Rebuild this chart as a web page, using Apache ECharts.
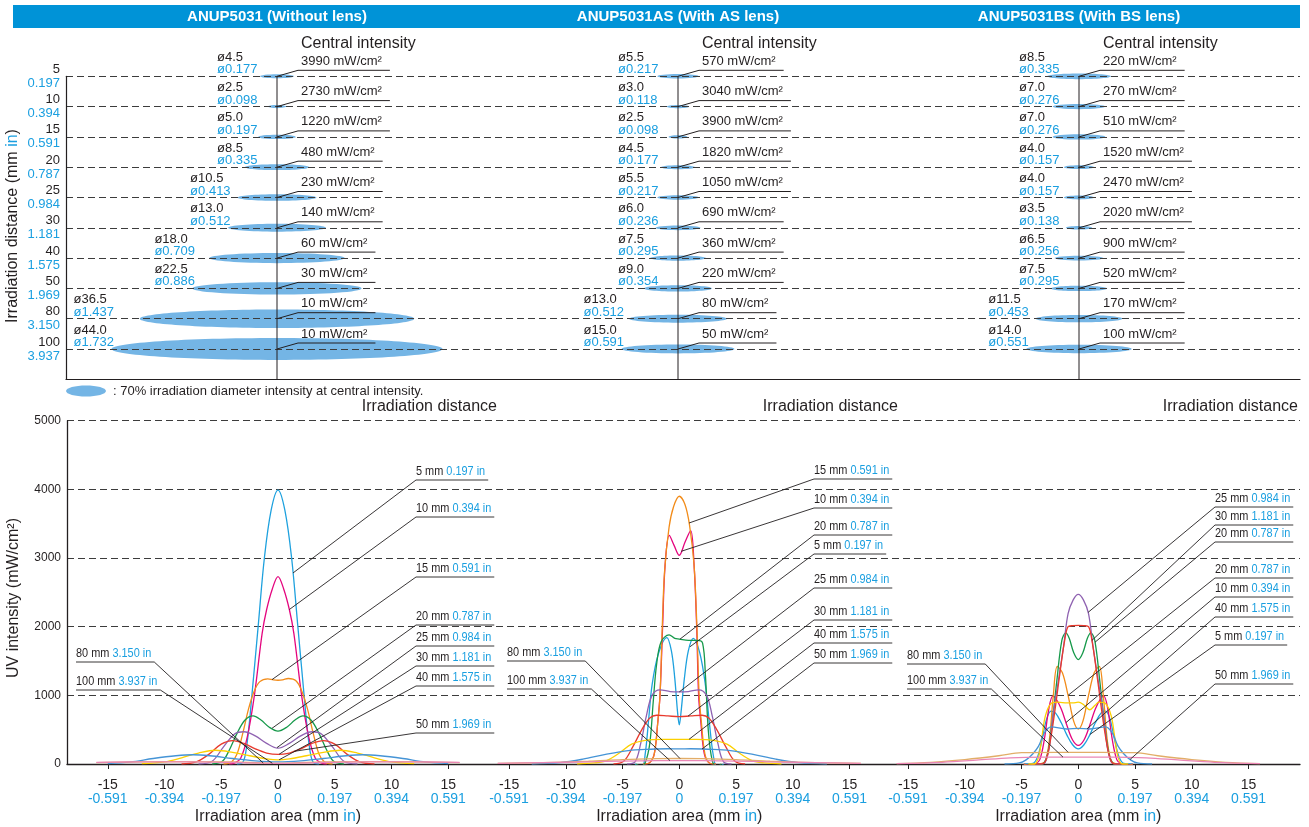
<!DOCTYPE html>
<html>
<head>
<meta charset="utf-8">
<title>ANUP5031 irradiation characteristics</title>
<script src="https://cdn.jsdelivr.net/npm/echarts@6/dist/echarts.min.js"></script>
<style>
html,body{margin:0;padding:0;background:#fff;}
#chart{width:1309px;height:827px;}
</style>
</head>
<body>
<div id="chart"></div>
<script>
// ---------------- data ----------------
const modelNames = ['ANUP5031 (Without lens)', 'ANUP5031AS (With AS lens)', 'ANUP5031BS (With BS lens)'];
const distancesMm = [5, 10, 15, 20, 25, 30, 40, 50, 80, 100];
const distancesIn = ['0.197', '0.394', '0.591', '0.787', '0.984', '1.181', '1.575', '1.969', '3.150', '3.937'];

// 70 % irradiation diameter at each distance
const spotDiaMmStd = [4.5, 2.5, 5.0, 8.5, 10.5, 13.0, 18.0, 22.5, 36.5, 44.0];
const spotDiaInStd = ['0.177', '0.098', '0.197', '0.335', '0.413', '0.512', '0.709', '0.886', '1.437', '1.732'];
const spotDiaMmAS = [5.5, 3.0, 2.5, 4.5, 5.5, 6.0, 7.5, 9.0, 13.0, 15.0];
const spotDiaInAS = ['0.217', '0.118', '0.098', '0.177', '0.217', '0.236', '0.295', '0.354', '0.512', '0.591'];
const spotDiaMmBS = [8.5, 7.0, 7.0, 4.0, 4.0, 3.5, 6.5, 7.5, 11.5, 14.0];
const spotDiaInBS = ['0.335', '0.276', '0.276', '0.157', '0.157', '0.138', '0.256', '0.295', '0.453', '0.551'];

// central intensity (mW/cm2)
const centralStd = [3990, 2730, 1220, 480, 230, 140, 60, 30, 10, 10];
const centralAS = [570, 3040, 3900, 1820, 1050, 690, 360, 220, 80, 50];
const centralBS = [220, 270, 510, 1520, 2470, 2020, 900, 520, 170, 100];

// axis ticks
const xTickMm = [-15, -10, -5, 0, 5, 10, 15];
const xTickIn = ['-0.591', '-0.394', '-0.197', '0', '0.197', '0.394', '0.591'];
const uvMax = 5000, uvStep = 1000;

// intensity profiles [position mm, mW/cm2] per irradiation distance
const profileStd = {
  5: [[-3.6,0],[-3.2,10],[-2.9,120],[-2.6,480],[-2.3,1000],[-1.75,2000],[-1.2,3000],[-0.6,3700],[0,3990],[0.6,3700],[1.2,3000],[1.75,2000],[2.3,1000],[2.6,480],[2.9,120],[3.2,10],[3.6,0]],
  10: [[-4.3,0],[-3.9,10],[-3.3,80],[-2.7,400],[-2.08,1000],[-1.4,1900],[-1.0,2250],[-0.5,2550],[0,2730],[0.5,2550],[1.0,2250],[1.4,1900],[2.08,1000],[2.7,400],[3.3,80],[3.9,10],[4.3,0]],
  15: [[-4.8,0],[-4.1,30],[-3.6,150],[-3.1,450],[-2.6,800],[-2.1,1060],[-1.6,1200],[-0.9,1240],[-0.4,1225],[0,1220],[0.4,1225],[0.9,1245],[1.6,1210],[2.1,1060],[2.6,800],[3.1,450],[3.6,150],[4.1,30],[4.8,0]],
  20: [[-5.8,0],[-4.9,40],[-4.3,200],[-3.6,450],[-2.9,640],[-2.2,700],[-1.5,640],[-0.8,540],[0,480],[0.8,540],[1.5,640],[2.2,700],[2.9,640],[3.6,450],[4.3,200],[4.9,40],[5.8,0]],
  25: [[-7,0],[-5.8,40],[-4.8,250],[-3.8,440],[-3.0,470],[-2.0,410],[-1.0,300],[0,230],[1.0,300],[2.0,410],[3.0,470],[3.8,440],[4.8,250],[5.8,40],[7,0]],
  30: [[-8.5,0],[-7.2,30],[-6.1,140],[-5.0,290],[-4.0,340],[-3.0,300],[-2.0,220],[-1.0,160],[0,140],[1.0,160],[2.0,220],[3.0,300],[4.0,340],[5.0,290],[6.1,140],[7.2,30],[8.5,0]],
  40: [[-12,5],[-10,30],[-8.5,90],[-7,160],[-5.5,200],[-4,170],[-2.5,120],[-1,75],[0,60],[1,75],[2.5,120],[4,170],[5.5,200],[7,160],[8.5,90],[10,30],[12,5]],
  50: [[-15,5],[-13,30],[-11,80],[-9,120],[-7.5,135],[-6,120],[-4,80],[-2,45],[0,30],[2,45],[4,80],[6,120],[7.5,135],[9,120],[11,80],[13,30],[15,5]],
  80: [[-16,20],[-12,30],[-8,35],[-4,30],[-1.5,15],[0,10],[1.5,15],[4,30],[8,35],[12,30],[16,20]],
  100: [[-16,25],[-12,30],[-8,30],[-4,22],[-1.5,13],[0,10],[1.5,13],[4,22],[8,30],[12,30],[16,25]]
};
const profileAS = {
  5: [[-3.9,0],[-3.3,-50],[-3.0,150],[-2.7,650],[-2.4,1150],[-1.85,1600],[-1.1,1840],[-0.7,1650],[-0.4,1250],[-0.15,750],[0,570],[0.15,750],[0.45,1250],[0.8,1650],[1.24,1830],[1.8,1620],[2.3,1150],[2.65,600],[3.0,120],[3.35,-60],[3.9,0]],
  10: [[-3.2,0],[-2.6,20],[-2.2,150],[-1.9,600],[-1.7,1000],[-1.47,2000],[-1.25,2900],[-0.88,3330],[-0.45,3180],[0,3040],[0.5,3230],[1.0,3400],[1.3,2900],[1.53,2000],[1.7,1000],[1.9,600],[2.2,150],[2.6,20],[3.2,0]],
  15: [[-3.2,0],[-2.6,20],[-2.2,150],[-1.9,600],[-1.7,1000],[-1.5,2000],[-1.3,2800],[-0.9,3450],[-0.5,3750],[0,3900],[0.5,3780],[0.9,3480],[1.3,2900],[1.55,2000],[1.75,1000],[1.95,600],[2.25,150],[2.6,20],[3.2,0]],
  20: [[-3.8,0],[-3.4,-30],[-3.0,20],[-2.6,300],[-2.3,900],[-2.0,1450],[-1.6,1780],[-0.9,1880],[-0.4,1830],[0,1820],[0.8,1800],[1.6,1800],[2.05,1760],[2.3,1300],[2.55,500],[2.9,50],[3.3,-40],[3.7,0]],
  25: [[-4.6,0],[-3.9,30],[-3.4,300],[-2.9,700],[-2.4,1000],[-1.7,1080],[-0.8,1055],[0,1050],[0.8,1055],[1.7,1080],[2.4,1000],[2.9,700],[3.4,300],[3.9,30],[4.6,0]],
  30: [[-5.8,0],[-4.9,40],[-4.1,250],[-3.3,500],[-2.6,670],[-2.0,710],[-1.0,700],[0,690],[1.0,700],[2.0,710],[2.6,670],[3.3,500],[4.1,250],[4.9,40],[5.8,0]],
  40: [[-9,0],[-7.5,15],[-6.4,50],[-5.2,170],[-4.2,290],[-3.0,345],[-1.5,360],[0,360],[1.5,360],[3.0,345],[4.2,290],[5.2,170],[6.4,50],[7.5,15],[9,0]],
  50: [[-13,0],[-10.5,20],[-8.5,70],[-6.5,140],[-4.5,195],[-2.5,215],[-1,222],[0,220],[1,222],[2.5,215],[4.5,195],[6.5,140],[8.5,70],[10.5,20],[13,0]],
  80: [[-16,10],[-12,20],[-8,40],[-5,65],[-2,78],[0,80],[2,78],[5,65],[8,40],[12,20],[16,10]],
  100: [[-16,10],[-12,20],[-8,32],[-5,42],[-2,49],[0,50],[2,49],[5,42],[8,32],[12,20],[16,10]]
};
const profileBS = {
  5: [[-4.8,0],[-4.0,10],[-3.6,100],[-3.2,350],[-2.8,650],[-2.4,770],[-2.0,740],[-1.5,600],[-1.0,420],[-0.5,280],[0,220],[0.5,280],[1.0,420],[1.5,600],[2.0,740],[2.4,770],[2.8,650],[3.2,350],[3.6,100],[4.0,10],[4.8,0]],
  10: [[-4.8,0],[-4.4,-15],[-3.8,0],[-3.4,60],[-3.0,350],[-2.6,800],[-2.25,990],[-2.0,960],[-1.5,800],[-1.0,560],[-0.5,350],[0,270],[0.5,350],[1.0,560],[1.5,800],[2.0,960],[2.25,990],[2.6,800],[3.0,350],[3.4,60],[3.8,0],[4.4,-15],[4.8,0]],
  15: [[-4.8,0],[-4.4,-15],[-3.7,0],[-3.3,5],[-2.9,40],[-2.55,350],[-2.2,1000],[-1.85,1420],[-1.4,1330],[-0.9,1000],[-0.4,620],[0,510],[0.4,620],[0.9,1000],[1.4,1330],[1.85,1420],[2.2,1000],[2.55,350],[2.9,40],[3.3,5],[3.7,0],[4.4,-15],[4.8,0]],
  20: [[-3.8,0],[-3.5,-15],[-3.1,0],[-2.7,150],[-2.3,600],[-1.9,1200],[-1.45,1800],[-1.1,1910],[-0.8,1830],[-0.4,1620],[0,1520],[0.4,1620],[0.8,1830],[1.1,1910],[1.45,1800],[1.9,1200],[2.3,600],[2.7,150],[3.1,0],[3.5,-15],[3.8,0]],
  25: [[-3.8,0],[-3.3,0],[-2.9,30],[-2.55,250],[-2.2,740],[-1.75,1220],[-1.3,1710],[-0.9,2190],[-0.45,2390],[0,2470],[0.45,2390],[0.9,2190],[1.3,1710],[1.75,1220],[2.2,740],[2.55,250],[2.9,30],[3.3,0],[3.8,0]],
  30: [[-3.8,0],[-3.2,0],[-2.8,80],[-2.4,400],[-2.0,850],[-1.6,1350],[-1.2,1800],[-0.9,2000],[-0.5,2015],[0,2020],[0.5,2015],[0.9,2000],[1.2,1800],[1.6,1350],[2.0,850],[2.4,400],[2.8,80],[3.2,0],[3.8,0]],
  40: [[-4.4,0],[-3.9,0],[-3.5,100],[-3.2,400],[-2.9,700],[-2.4,880],[-1.8,900],[-1.0,890],[-0.5,890],[0,900],[0.5,860],[1.0,790],[1.5,860],[1.8,900],[2.4,880],[2.9,700],[3.2,400],[3.5,100],[3.9,0],[4.4,0]],
  50: [[-6.5,0],[-5.2,15],[-4.6,60],[-4.0,150],[-3.5,260],[-3.0,450],[-2.4,540],[-1.0,510],[0,520],[1.0,510],[2.4,540],[3.0,450],[3.5,260],[4.0,150],[4.6,60],[5.2,15],[6.5,0]],
  80: [[-16,5],[-13,25],[-10,65],[-7,120],[-5,165],[-2,170],[0,170],[2,170],[5,165],[7,120],[10,65],[13,25],[16,5]],
  100: [[-16,5],[-12,25],[-9,55],[-6,90],[-3,100],[0,100],[3,100],[6,90],[9,55],[12,25],[16,5]]
};

// callouts: [distance named in the label, profile it points at, position along the profile (mm)]
const calloutsStd = [[5,5,1.32],[10,10,1.0],[15,15,-0.53],[20,20,-0.53],[25,25,-0.1],[30,30,0.1],[40,40,0.1],[50,30,1.4],[80,80,-1.3],[100,100,-0.5]];
const calloutsAS = [[15,15,0.86],[10,10,0.15],[20,20,0.06],[5,5,0.94],[25,25,0],[30,30,0.77],[40,40,0.86],[50,50,2.0],[80,80,0.06],[100,100,-0.82]];
const calloutsBS = [[25,25,0.86],[30,30,1.2],[20,20,1.47],[20,15,-0.9],[10,10,-1.09],[40,50,0.77],[5,5,1.03],[50,50,4.56],[80,80,-0.9],[100,100,-1.35]];

// ---------------- layout & style ----------------
const FONT = "'Liberation Sans', Arial, Helvetica, sans-serif";
const INK = '#231f20';
const BLUE_TXT = '#1a9fe0';
const SPOT = '#74b5e5';
const HEADER = '#0093d7';
const DASH = { type: [7, 4], color: '#3c3c3c', width: 1 };
const lineColors = {5:'#1ea1de', 10:'#e4057e', 15:'#f28c1a', 20:'#16994a', 25:'#8f62b1', 30:'#e83a2d', 40:'#fcd000', 50:'#4594d6', 80:'#e2ad68', 100:'#ea86b6'};

const panelEdges = [66, 478, 879, 1300];
const upperTop = 76.3, rowPitch = 30.3;
const upperCx = [277, 678, 1079];
const upperPxPerMm = 7.52;
const lowerTop = 420.7, lowerBottom = 764;
const lowerCx = [278, 679.3, 1078.3];
const lowerPxPerMm = 11.35;
const calloutFontSize = 13, calloutSqueeze = 0.84;   // condensed callout lettering

// callout text slots: text left edge and underline height (px)
const calloutSlots = [
  { right: 416, left: 76, rows: [['r',480],['r',517],['r',577],['r',625],['r',646],['r',666],['r',686],['r',733],['l',662],['l',690]] },
  { right: 814, left: 507, rows: [['r',479],['r',508],['r',535],['r',554],['r',588],['r',620],['r',643],['r',663],['l',661],['l',689]] },
  { right: 1215, left: 907, rows: [['r',507],['r',525],['r',542],['r',578],['r',597],['r',617],['r',645],['r',684],['l',664],['l',689]] }
];

const spotDiaMm = [spotDiaMmStd, spotDiaMmAS, spotDiaMmBS];
const spotDiaIn = [spotDiaInStd, spotDiaInAS, spotDiaInBS];
const centrals = [centralStd, centralAS, centralBS];
const profiles = [profileStd, profileAS, profileBS];
const callouts = [calloutsStd, calloutsAS, calloutsBS];

const measureCtx = document.createElement('canvas').getContext('2d');
function textWidth(str, size, family) {
  measureCtx.font = size + 'px ' + family;
  return measureCtx.measureText(str).width;
}
function interp(pts, x) {
  for (let i = 0; i < pts.length - 1; i++) {
    const a = pts[i], b = pts[i + 1];
    if (x >= a[0] && x <= b[0]) return a[1] + (b[1] - a[1]) * (x - a[0]) / (b[0] - a[0]);
  }
  return 0;
}

// ---------------- grids & axes ----------------
const grids = [], xAxes = [], yAxes = [], series = [];
const baseGrid = { containLabel: false, outerBoundsMode: 'none' };

// upper frame: distance rows
grids.push(Object.assign({ left: panelEdges[0], top: upperTop, width: panelEdges[3] - panelEdges[0], height: rowPitch * 10 }, baseGrid));
xAxes.push({ gridIndex: 0, type: 'value', min: 0, max: 1, axisLine: { show: true, onZero: false, lineStyle: { color: INK, width: 1.2 } }, axisTick: { show: false }, axisLabel: { show: false }, splitLine: { show: false } });
yAxes.push({
  gridIndex: 0, type: 'value', min: 0, max: 10, interval: 1, inverse: true, z: 4,
  axisLine: { show: true, onZero: false, lineStyle: { color: INK, width: 1.2 } },
  axisTick: { show: false },
  axisLabel: {
    margin: 6,
    formatter: v => (v < distancesMm.length ? `{d|${distancesMm[v]}}\n{i|${distancesIn[v]}}` : ''),
    rich: { d: { color: INK, fontSize: 13, lineHeight: 14, fontFamily: FONT }, i: { color: BLUE_TXT, fontSize: 13, lineHeight: 14, fontFamily: FONT } }
  },
  splitLine: { show: true, showMinLine: true, showMaxLine: false, lineStyle: DASH }
});

// upper panels (spot diameters)
for (let p = 0; p < 3; p++) {
  const l = panelEdges[p], r = panelEdges[p + 1];
  grids.push(Object.assign({ left: l, top: upperTop, width: r - l, height: rowPitch * 10 }, baseGrid));
  xAxes.push({ gridIndex: 1 + p, type: 'value', show: false, min: (l - upperCx[p]) / upperPxPerMm, max: (r - upperCx[p]) / upperPxPerMm });
  yAxes.push({ gridIndex: 1 + p, type: 'value', show: false, min: 0, max: 10, inverse: true });
}

// lower frame: UV intensity
grids.push(Object.assign({ left: 67, top: lowerTop, width: panelEdges[3] - 67, height: lowerBottom - lowerTop }, baseGrid));
xAxes.push({ gridIndex: 4, type: 'value', min: 0, max: 1, axisLine: { show: true, onZero: false, lineStyle: { color: INK, width: 1.3 } }, axisTick: { show: false }, axisLabel: { show: false }, splitLine: { show: false } });
yAxes.push({
  gridIndex: 4, type: 'value', min: 0, max: uvMax, interval: uvStep,
  axisLine: { show: true, lineStyle: { color: INK, width: 1.3 } },
  axisTick: { show: false },
  axisLabel: { margin: 6, color: INK, fontSize: 12, fontFamily: FONT, formatter: v => String(v) },
  splitLine: { show: true, showMinLine: false, showMaxLine: true, lineStyle: DASH }
});

// lower panels (profiles)
for (let p = 0; p < 3; p++) {
  const l = p === 0 ? 67 : panelEdges[p], r = panelEdges[p + 1];
  grids.push(Object.assign({ left: l, top: lowerTop, width: r - l, height: lowerBottom - lowerTop }, baseGrid));
  xAxes.push({
    gridIndex: 5 + p, type: 'value',
    min: (l - lowerCx[p]) / lowerPxPerMm, max: (r - lowerCx[p]) / lowerPxPerMm,
    axisLine: { show: false },
    axisTick: { show: true, customValues: xTickMm, length: 5, lineStyle: { color: INK, width: 1 } },
    axisLabel: {
      customValues: xTickMm, margin: 14,
      formatter: v => { const i = xTickMm.indexOf(v); return `{k|${v}}\n{b|${xTickIn[i]}}`; },
      rich: { k: { color: INK, fontSize: 14, lineHeight: 14, fontFamily: FONT }, b: { color: BLUE_TXT, fontSize: 14, lineHeight: 14, fontFamily: FONT } }
    },
    splitLine: { show: false }
  });
  yAxes.push({ gridIndex: 5 + p, type: 'value', show: false, min: 0, max: uvMax });
}

// ---------------- series ----------------
for (let p = 0; p < 3; p++) {
  const dias = spotDiaMm[p];
  // spot ellipses
  series.push({
    type: 'custom', xAxisIndex: 1 + p, yAxisIndex: 1 + p, z: 2, clip: false, silent: true,
    data: dias.map((d, i) => [i, d]),
    renderItem: (params, api) => {
      const row = api.value(0), d = api.value(1);
      const c = api.coord([0, row]);
      const w = api.size([d, 0])[0];
      return { type: 'ellipse', shape: { cx: c[0], cy: c[1], rx: w / 2, ry: (w * 0.06 + 2) / 2 }, style: { fill: SPOT } };
    }
  });
  // centre line, diameter labels and central intensity callouts
  series.push({
    type: 'custom', xAxisIndex: 1 + p, yAxisIndex: 1 + p, z: 6, clip: false, silent: true,
    data: dias.map((d, i) => [i, d]),
    renderItem: (params, api) => {
      const row = api.value(0);
      const c = api.coord([0, row]);
      const cx = c[0], y = c[1];
      const children = [];
      if (row === 0) {
        const b = api.coord([0, 10]);
        children.push({ type: 'line', shape: { x1: cx, y1: y, x2: cx, y2: b[1] }, style: { stroke: INK, lineWidth: 1 } });
        children.push({ type: 'text', x: cx + 24, y: y - 33, style: { text: 'Central intensity', font: '16px ' + FONT, fill: INK, align: 'left', verticalAlign: 'middle' } });
      }
      const pair = Math.floor(row / 2) * 2;
      const halfMax = Math.max(api.size([dias[pair], 0])[0], api.size([dias[pair + 1], 0])[0]) / 2;
      const lx = cx - 60 - (halfMax > 34 ? halfMax - 22 : 0);
      children.push({ type: 'text', x: lx, y: y - 19, style: { text: 'ø' + dias[row].toFixed(1), font: '13px ' + FONT, fill: INK, align: 'left', verticalAlign: 'middle' } });
      children.push({ type: 'text', x: lx, y: y - 6.5, style: { text: 'ø' + spotDiaIn[p][row], font: '13px ' + FONT, fill: BLUE_TXT, align: 'left', verticalAlign: 'middle' } });
      const label = centrals[p][row] + ' mW/cm²';
      const w = textWidth(label, 13, FONT);
      children.push({ type: 'polyline', shape: { points: [[cx, y], [cx + 21, y - 6], [cx + 24 + w + 8, y - 6]] }, style: { stroke: INK, lineWidth: 1, fill: null } });
      children.push({ type: 'text', x: cx + 24, y: y - 15, style: { text: label, font: '13px ' + FONT, fill: INK, align: 'left', verticalAlign: 'middle' } });
      return { type: 'group', children };
    }
  });
}

for (let p = 0; p < 3; p++) {
  distancesMm.forEach(d => {
    series.push({
      type: 'line', name: d + ' mm', xAxisIndex: 5 + p, yAxisIndex: 5 + p,
      data: profiles[p][d], smooth: 0.35, symbol: 'none', z: 3,
      lineStyle: { color: lineColors[d], width: 1.3 }
    });
  });
  // callouts with leader lines
  const slots = calloutSlots[p];
  series.push({
    type: 'custom', xAxisIndex: 5 + p, yAxisIndex: 5 + p, z: 8, clip: false, silent: true,
    data: callouts[p].map((c, i) => [c[2], interp(profiles[p][c[1]], c[2]), i]),
    renderItem: (params, api) => {
      const i = api.value(2);
      const co = callouts[p][i];
      const a = api.coord([api.value(0), api.value(1)]);
      const slot = slots.rows[i];
      const left = slot[0] === 'r' ? slots.right : slots.left;
      const uy = slot[1];
      const mmTxt = co[0] + ' mm ';
      const inTxt = distancesIn[distancesMm.indexOf(co[0])] + ' in';
      const w = (textWidth(mmTxt, calloutFontSize, FONT) + textWidth(inTxt, calloutFontSize, FONT)) * calloutSqueeze;
      const x0 = left, x1 = left + w + 3;
      const pts = slot[0] === 'r' ? [a, [x0, uy], [x1, uy]] : [a, [x1, uy], [x0, uy]];
      return {
        type: 'group', children: [
          { type: 'polyline', shape: { points: pts }, style: { stroke: INK, lineWidth: 0.9, fill: null } },
          { type: 'text', x: left, y: uy - 8.5, scaleX: calloutSqueeze, style: {
            text: `{k|${mmTxt}}{b|${inTxt}}`, align: 'left', verticalAlign: 'middle',
            rich: { k: { fill: INK, fontSize: calloutFontSize, fontFamily: FONT }, b: { fill: BLUE_TXT, fontSize: calloutFontSize, fontFamily: FONT } }
          } }
        ]
      };
    }
  });
}

// ---------------- static text ----------------
const graphic = [
  { type: 'rect', shape: { x: 13, y: 5, width: 1287, height: 23 }, style: { fill: HEADER }, silent: true },
  { type: 'ellipse', shape: { cx: 86, cy: 391, rx: 20, ry: 5.5 }, style: { fill: SPOT }, silent: true },
  { type: 'text', x: 113, y: 391, style: { text: ': 70% irradiation diameter intensity at central intensity.', font: '13px ' + FONT, fill: INK, align: 'left', verticalAlign: 'middle' } },
  { type: 'text', x: 13, y: 226, rotation: Math.PI / 2, style: {
    text: '{k|Irradiation distance (mm }{b|in}{k|)}', align: 'center', verticalAlign: 'middle',
    rich: { k: { fill: INK, fontSize: 16, fontFamily: FONT }, b: { fill: BLUE_TXT, fontSize: 16, fontFamily: FONT } } } },
  { type: 'text', x: 14, y: 598, rotation: Math.PI / 2, style: { text: 'UV intensity (mW/cm²)', font: '16px ' + FONT, fill: INK, align: 'center', verticalAlign: 'middle' } }
];
const distTitleRight = [497, 898, 1298];
for (let p = 0; p < 3; p++) {
  graphic.push({ type: 'text', x: upperCx[p], y: 17, style: { text: modelNames[p], font: 'bold 15px ' + FONT, fill: '#ffffff', align: 'center', verticalAlign: 'middle' } });
  graphic.push({ type: 'text', x: distTitleRight[p], y: 407, style: { text: 'Irradiation distance', font: '16px ' + FONT, fill: INK, align: 'right', verticalAlign: 'middle' } });
  graphic.push({ type: 'text', x: lowerCx[p], y: 817, style: {
    text: '{k|Irradiation area (mm }{b|in}{k|)}', align: 'center', verticalAlign: 'middle',
    rich: { k: { fill: INK, fontSize: 16, fontFamily: FONT }, b: { fill: BLUE_TXT, fontSize: 16, fontFamily: FONT } } } });
}

const chart = echarts.init(document.getElementById('chart'), null, { renderer: 'canvas', width: 1309, height: 827 });
chart.setOption({
  animation: false,
  backgroundColor: '#ffffff',
  textStyle: { fontFamily: FONT },
  grid: grids, xAxis: xAxes, yAxis: yAxes, series, graphic
});
</script>
</body>
</html>
